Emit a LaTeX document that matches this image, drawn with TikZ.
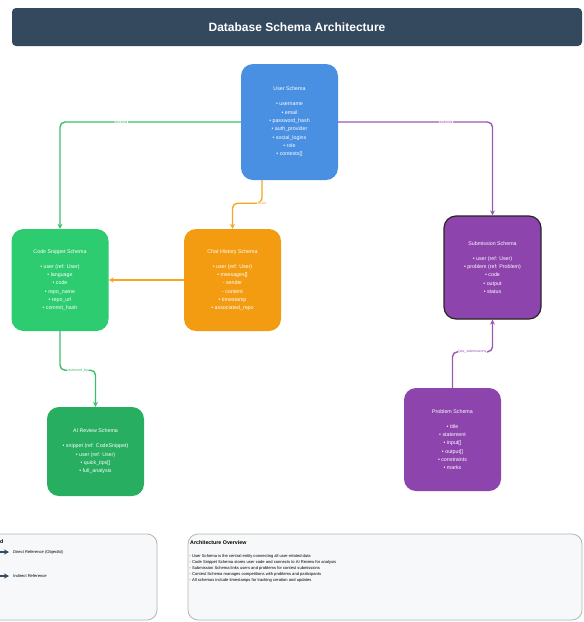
\documentclass[tikz,border=0pt]{standalone}
\usepackage{fontspec}
\setmainfont{Liberation Sans}
\usetikzlibrary{arrows.meta,calc}
\definecolor{slate}{HTML}{34495E}
\definecolor{userblue}{HTML}{4A90E2}
\definecolor{codegreen}{HTML}{2ECC71}
\definecolor{aigreen}{HTML}{27AE60}
\definecolor{chatorange}{HTML}{F39C12}
\definecolor{subpurple}{HTML}{8E44AD}
\definecolor{linkgreen}{HTML}{3DBF6A}
\definecolor{linkpurple}{HTML}{9B59B6}
\definecolor{linkorange}{HTML}{F5A623}
\definecolor{panelfill}{HTML}{F7F8F9}
\definecolor{panelline}{HTML}{B4B4B4}
\begin{document}
\begin{tikzpicture}[x=1pt,y=-1pt,
  schema/.style={rounded corners=12pt, minimum width=97pt, inner sep=0pt,
    align=center, text=white, font=\fontsize{5.3}{8.3}\selectfont},
  link/.style={line width=1.4pt, rounded corners=5pt,
    -{Stealth[length=5pt,width=5pt]}},
  linklabel/.style={font=\fontsize{3.6}{4}\selectfont, fill=white, inner sep=0.6pt},
  panel/.style={fill=panelfill, draw=panelline, line width=0.8pt,
    rounded corners=10pt, minimum height=86pt},
  legendtip/.style={line width=1.2pt, draw=slate, -{Stealth[length=5pt,width=5pt]}},
  small/.style={font=\fontsize{4.1}{6}\selectfont, align=left, inner sep=0pt}
]
\useasboundingbox (0,0) rectangle (584,622);
\fill[white] (0,0) rectangle (584,622);

% header bar
\node[fill=slate, rounded corners=4pt, minimum width=570pt, minimum height=38pt,
  text=white, font=\bfseries\fontsize{12}{14}\selectfont] (title) at (297,27)
  {Database Schema Architecture};

% schemas
\node[schema, fill=userblue, minimum height=116pt] (user) at (289.5,122)
  {User Schema\\[6.7pt]
   • username\\ • email\\ • password\_hash\\ • auth\_provider\\
   • social\_logins\\ • role\\ • contests[]};

\node[schema, fill=codegreen, minimum height=102pt] (code) at (60,280)
  {Code Snippet Schema\\[6.7pt]
   • user (ref: User)\\ • language\\ • code\\ • repo\_name\\
   • repo\_url\\ • commit\_hash};

\node[schema, fill=chatorange, minimum height=102pt] (chat) at (232.5,280)
  {Chat History Schema\\[6.7pt]
   • user (ref: User)\\ • messages[]\\ - sender\\ - content\\
   • timestamp\\ • associated\_repo};

\node[schema, fill=subpurple, draw=black!85, line width=1.2pt, minimum height=103pt]
  (sub) at (492.5,267.5)
  {Submission Schema\\[6.7pt]
   • user (ref: User)\\ • problem (ref: Problem)\\ • code\\ • output\\ • status};

\node[schema, fill=aigreen, minimum height=89pt] (ai) at (95.5,451.5)
  {AI Review Schema\\[6.7pt]
   • snippet (ref: CodeSnippet)\\ • user (ref: User)\\ • quick\_tips[]\\
   • full\_analysis};

\node[schema, fill=subpurple, minimum height=103pt] (prob) at (452.5,439.5)
  {Problem Schema\\[6.7pt]
   • title\\ • statement\\ • input[]\\ • output[]\\ • constraints\\ • marks};

% references between schemas
\draw[link, linkgreen] (user.west) -| (code.north)
  node[linklabel, text=linkgreen, pos=0.33] {creates};
\draw[link, linkpurple] (user.east) -| (sub.north)
  node[linklabel, text=linkpurple, pos=0.35] {submits};
\draw[link, linkorange] ([xshift=-27.5pt]user.south) -- ++(0,23)
  node[linklabel, text=linkorange, pos=1] {chats} -| (chat.north);
\draw[link, linkorange] (chat.west) -- (code.east);
\draw[link, linkgreen] (code.south) -- ++(0,39) coordinate (rv)
  -- (rv -| ai.north) node[linklabel, text=linkgreen, midway] {reviewed\_by}
  -- (ai.north);
\draw[link, linkpurple] (prob.north) -- ++(0,-36) coordinate (hs)
  -- (hs -| sub.south) node[linklabel, text=linkpurple, midway] {has\_submissions}
  -- (sub.south);

% legend panel
\node[panel, minimum width=177pt] (legend) at (68.5,577) {};
\node[anchor=east, inner sep=0pt, font=\bfseries\fontsize{5.3}{6}\selectfont]
  (legendtitle) at (3.5,542) {Legend};
\coordinate (d0) at (-12,552);
\coordinate (i0) at (-12,576);
\node[small, anchor=west] (direct) at (13,552) {Direct Reference (ObjectId)};
\node[small, anchor=west] (indirect) at (13,576) {Indirect Reference};
\draw[legendtip] (d0) -- ([xshift=-4pt]direct.west);
\draw[legendtip] (i0) -- ([xshift=-4pt]indirect.west);

% overview panel
\node[panel, minimum width=394pt] (overview) at (385,577) {};
\node[anchor=west, inner sep=0pt, font=\bfseries\fontsize{5.3}{6}\selectfont]
  (ovtitle) at (190,543) {Architecture Overview};
\node[small, anchor=north west] (ovtext) at (189.5,554.5)
  {- User Schema is the central entity connecting all user-related data\\
   - Code Snippet Schema stores user code and connects to AI Review for analysis\\
   - Submission Schema links users and problems for contest submissions\\
   - Contest Schema manages competitions with problems and participants\\
   - All schemas include timestamps for tracking creation and updates};
\end{tikzpicture}
\end{document}
